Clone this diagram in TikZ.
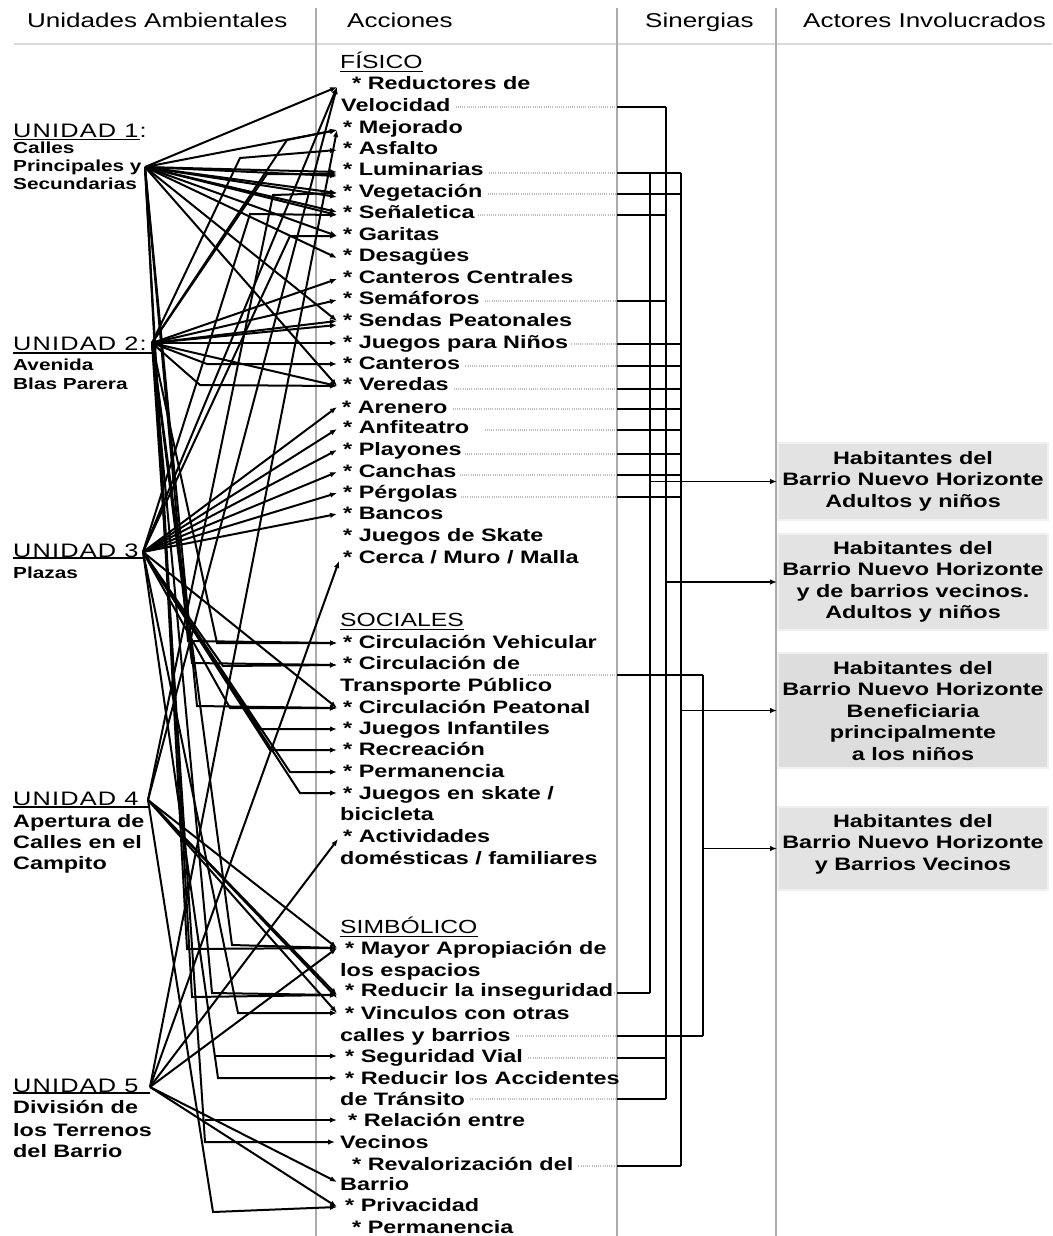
\documentclass[tikz,border=0pt]{standalone}
\usepackage{fontspec}
\setmainfont{Liberation Sans}[FakeStretch=1.3]
\usetikzlibrary{arrows.meta,calc}
\begin{document}
\begin{tikzpicture}[x=1pt,y=-1pt,
  conn/.style={line width=2pt,-{Latex[length=7pt,width=5.5pt]}},
  wire/.style={line width=1.6pt},
  outarrow/.style={line width=1.6pt,-{Latex[length=7pt,width=5.5pt]}},
  dots/.style={gray!50,line width=1.1pt,dash pattern=on 1pt off 1.2pt},
  sep/.style={gray!65,line width=1.3pt},
  item/.style={anchor=base west,inner sep=0pt,font=\fontsize{18}{20}\selectfont\bfseries},
  cat/.style={anchor=base west,inner sep=0pt,font=\fontsize{19}{20}\selectfont},
  head/.style={anchor=base west,inner sep=0pt,font=\fontsize{20}{22}\selectfont},
  unit/.style={anchor=base west,inner sep=0pt,font=\fontsize{19.5}{20}\selectfont\addfontfeature{LetterSpace=6}},
  desc/.style={anchor=base west,inner sep=0pt,font=\fontsize{16}{18}\selectfont\bfseries},
  descl/.style={anchor=base west,inner sep=0pt,font=\fontsize{18}{20}\selectfont\bfseries},
  actor/.style={fill=gray!22,draw=gray!12,line width=2pt,minimum width=270pt,inner sep=0pt},
  actortext/.style={align=center,font=\fontsize{18}{21.5}\selectfont\bfseries,inner sep=0pt},
]
\useasboundingbox (0,0) rectangle (1052,1236);
\fill[white] (0,0) rectangle (1052,1236);

% column frame
\draw[gray!30,line width=2pt] (14,44) -- (1052,44);
\draw[sep] (316,8) -- (316,1236);
\draw[sep] (617,8) -- (617,1236);
\draw[sep] (776,8) -- (776,1236);

% column titles
\node[head] (h1) at (27,28) {Unidades Ambientales};
\node[head] (h2) at (347,28) {Acciones};
\node[head] (h3) at (645,28) {Sinergias};
\node[head] (h4) at (803,28) {Actores Involucrados};

% environmental units
\node[unit] (u1) at (13,137.5) {UNIDAD 1:};
\node[desc] (u1a) at (13,153.5) {Calles};
\node[desc] (u1b) at (13,171) {Principales y};
\node[desc] (u1c) at (13,189) {Secundarias};
\node[unit] (u2) at (13,350) {UNIDAD 2:};
\node[desc] (u2a) at (13,370) {Avenida};
\node[desc] (u2b) at (13,389) {Blas Parera};
\node[unit] (u3) at (13,557) {UNIDAD 3};
\node[desc] (u3a) at (13,578) {Plazas};
\node[unit] (u4) at (13,805) {UNIDAD 4};
\node[descl] (u4a) at (13,827) {Apertura de};
\node[descl] (u4b) at (13,848) {Calles en el};
\node[descl] (u4c) at (13,869) {Campito};
\node[unit] (u5) at (13,1092) {UNIDAD 5};
\node[descl] (u5a) at (13,1113) {División de};
\node[descl] (u5b) at (13,1136) {los Terrenos};
\node[descl] (u5c) at (13,1157) {del Barrio};

\coordinate (U1) at (145,167);
\coordinate (U2) at (152,343);
\coordinate (U3) at (143,552);
\coordinate (U4) at (148,800);
\coordinate (U5) at (150,1087);

\draw[line width=1.1pt] (13,139.5) -- (140,139.5);
\draw[line width=1.1pt] (13,353) -- (U2 |- 0,353);
\draw[line width=1.1pt] (13,558) -- (U3 |- 0,558);
\draw[line width=1.1pt] (13,807) -- (U4 |- 0,807);
\draw[line width=1.1pt] (13,1093) -- (U5 |- 0,1093);

% actions
\node[cat] (hF) at (340,68.5) {FÍSICO};
\node[item] (t1) at (352,89.5) {* Reductores de};
\node[item] (t1b) at (341,111.5) {Velocidad};
\node[item] (t2) at (343,133.5) {* Mejorado};
\node[item] (t3) at (343,154.5) {* Asfalto};
\node[item] (t4) at (343,175.5) {* Luminarias};
\node[item] (t5) at (343,197.5) {* Vegetación};
\node[item] (t6) at (343,218.5) {* Señaletica};
\node[item] (t7) at (343,240.5) {* Garitas};
\node[item] (t8) at (343,261.5) {* Desagües};
\node[item] (t9) at (343,283.5) {* Canteros Centrales};
\node[item] (t10) at (343,304.5) {* Semáforos};
\node[item] (t11) at (343,326.5) {* Sendas Peatonales};
\node[item] (t12) at (343,348.5) {* Juegos para Niños};
\node[item] (t13) at (343,369.5) {* Canteros};
\node[item] (t14) at (343,390.5) {* Veredas};
\node[item] (t15) at (342,413.5) {* Arenero};
\node[item] (t16) at (343,433.5) {* Anfiteatro};
\node[item] (t17) at (343,455.5) {* Playones};
\node[item] (t18) at (343,477.5) {* Canchas};
\node[item] (t19) at (343,498.5) {* Pérgolas};
\node[item] (t20) at (343,519.5) {* Bancos};
\node[item] (t21) at (343,541.5) {* Juegos de Skate};
\node[item] (t22) at (343,563.5) {* Cerca / Muro / Malla};
\node[cat] (hS) at (340,626.5) {SOCIALES};
\node[item] (t23) at (343,648.5) {* Circulación Vehicular};
\node[item] (t24) at (343,669.5) {* Circulación de};
\node[item] (t24b) at (340,691.5) {Transporte Público};
\node[item] (t25) at (343,713.5) {* Circulación Peatonal};
\node[item] (t26) at (343,734.5) {* Juegos Infantiles};
\node[item] (t27) at (343,755.5) {* Recreación};
\node[item] (t28) at (343,777.5) {* Permanencia};
\node[item] (t29) at (343,799.5) {* Juegos en skate /};
\node[item] (t29b) at (340,820.5) {bicicleta};
\node[item] (t30) at (343,842.5) {* Actividades};
\node[item] (t30b) at (340,864.5) {domésticas / familiares};
\node[cat] (hY) at (340,933.5) {SIMBÓLICO};
\node[item] (t31) at (345,954.5) {* Mayor Apropiación de};
\node[item] (t31b) at (340,976.5) {los espacios};
\node[item] (t32) at (345,996.5) {* Reducir la inseguridad};
\node[item] (t33) at (345,1019.5) {* Vinculos con otras};
\node[item] (t33b) at (340,1041.5) {calles y barrios};
\node[item] (t34) at (345,1062.5) {* Seguridad Vial};
\node[item] (t35) at (345,1084.5) {* Reducir los Accidentes};
\node[item] (t35b) at (340,1105.5) {de Tránsito};
\node[item] (t36) at (348,1126.5) {* Relación entre};
\node[item] (t36b) at (340,1148.5) {Vecinos};
\node[item] (t37) at (352,1170.5) {* Revalorización del};
\node[item] (t37b) at (340,1190.5) {Barrio};
\node[item] (t38) at (345,1211.5) {* Privacidad};
\node[item] (t39) at (352,1233.5) {* Permanencia};

\foreach \h in {hF,hS,hY}
  \draw[line width=1.1pt] ($(\h.base west)+(0,3)$) -- ($(\h.base east)+(0,3)$);

% arrow tips in front of the actions
\foreach \n/\y in {1/87,2/130,3/150,4/172,5/193,6/215,7/236,8/258,9/279,10/300,
  11/321,12/343,13/364,14/386,15/407,16/429,17/450,18/472,19/493,20/514,
  23/643,24/665,25/708,26/729,27/750,28/772,29/793,31/948,32/995,33/1013,
  34/1056,35/1078,36/1120,38/1207}
  \coordinate (a\n) at (337,\y);
\coordinate (a22) at (339,561);
\coordinate (a30) at (338,839);
\coordinate (a36b) at (335,1142);
\coordinate (a37b) at (337,1182);

% unit 1
\foreach \t in {a1,a2,a4,a5,a6,a7,a8,a11,a14}
  \draw[conn] (U1) -- (\t);
\draw[conn] (U1) -- ($(a4)+(0,4)$);
\draw[conn] (U1) -- ($(a5)+(0,4)$);
\draw[conn] (U1) -- ($(a6)+(0,-3)$);
\draw[conn] (U1) -- (188,641) -- (a23);
\draw[conn] (U1) -- (197,706) -- (a25);
\draw[conn] (U1) -- (187,949) -- (a31);
\draw[conn] (U1) -- (192,997) -- (a32);

% unit 2
\foreach \t in {a9,a10,a11,a12,a14}
  \draw[conn] (U2) -- (\t);
\draw[conn] (U2) -- ($(a11)+(0,4)$);
\draw[conn] (U2) -- (240,158) -- (a3);
\draw[conn] (U2) -- (287,140) -- (a2);
\draw[conn] (U2) -- (267,174) -- ($(a4)+(0,2)$);
\draw[conn] (U2) -- (207,364) -- (a13);
\draw[conn] (U2) -- (200,385) -- (a14);
\draw[conn] (U2) -- (217,643) -- (a23);
\draw[conn] (U2) -- (192,663) -- (a24);
\draw[conn] (U2) -- (232,945) -- (a31);
\draw[conn] (U2) -- (212,993) -- (a32);
\draw[conn] (U2) -- (205,1142) -- (a36b);
\draw[conn] (205,1120) -- (a36);

% unit 3
\foreach \t in {a1,a15,a16,a17,a18,a19,a20,a25}
  \draw[conn] (U3) -- (\t);
\draw[conn] (U3) -- (250,214) -- (a6);
\draw[conn] (U3) -- (290,236) -- (a7);
\draw[conn] (U3) -- (223,666) -- (a24);
\draw[conn] (U3) -- (230,708) -- (a25);
\draw[conn] (U3) -- (260,729) -- (a26);
\draw[conn] (U3) -- (270,750) -- (a27);
\draw[conn] (U3) -- (290,772) -- (a28);
\draw[conn] (U3) -- (300,793) -- (a29);
\draw[conn] (U3) -- (238,1013) -- (a33);
\draw[conn] (U3) -- (218,1078) -- (a35);
\draw[conn] (216,1056) -- (a34);

% unit 4
\foreach \t in {a1,a31,a32,a33}
  \draw[conn] (U4) -- (\t);
\draw[conn] (U4) -- ($(a32)+(0,3)$);
\draw[conn] (U4) -- (273,195) -- (a5);
\draw[conn] (U4) -- (213,1212) -- (a38);

% unit 5
\foreach \t in {a2,a22,a30,a31,a37b,a38}
  \draw[conn] (U5) -- (\t);

% dotted leaders from the actions to the synergy column
\draw[dots,shorten <=5pt] (t1b.east |- 0,107) -- (617,107);
\draw[dots,shorten <=5pt] (t4.east |- 0,173) -- (617,173);
\draw[dots,shorten <=5pt] (t5.east |- 0,194) -- (617,194);
\draw[dots,shorten <=3pt] (t6.east |- 0,215) -- (617,215);
\draw[dots,shorten <=5pt] (t10.east |- 0,301) -- (617,301);
\draw[dots,shorten <=3pt] (t12.east |- 0,344) -- (617,344);
\draw[dots,shorten <=5pt] (t13.east |- 0,366) -- (617,366);
\draw[dots,shorten <=5pt] (t14.east |- 0,389) -- (617,389);
\draw[dots,shorten <=5pt] (t15.east |- 0,409) -- (617,409);
\draw[dots,shorten <=15pt] (t16.east |- 0,430) -- (617,430);
\draw[dots,shorten <=3pt] (t17.east |- 0,454) -- (617,454);
\draw[dots,shorten <=3pt] (t18.east |- 0,475) -- (617,475);
\draw[dots,shorten <=3pt] (t19.east |- 0,497) -- (617,497);
\draw[dots,shorten <=8pt] (t24.east |- 0,675) -- (617,675);
\draw[dots,shorten <=1pt] (t32.east |- 0,993) -- (617,993);
\draw[dots,shorten <=5pt] (t33b.east |- 0,1036) -- (617,1036);
\draw[dots,shorten <=5pt] (t34.east |- 0,1058) -- (617,1058);
\draw[dots,shorten <=5pt] (t35b.east |- 0,1099) -- (617,1099);
\draw[dots,shorten <=5pt] (t37.east |- 0,1166) -- (617,1166);

% synergy buses
\coordinate (b650) at (650,0);
\coordinate (b666) at (666,0);
\coordinate (b681) at (681,0);
\coordinate (b703) at (703,0);
\draw[wire] (b650 |- 0,173) -- (b650 |- 0,993);
\draw[wire] (b666 |- 0,107) -- (b666 |- 0,1099);
\draw[wire] (b681 |- 0,173) -- (b681 |- 0,1166);
\draw[wire] (b703 |- 0,675) -- (b703 |- 0,1036);
\foreach \y/\b in {107/b666,173/b681,194/b681,215/b666,301/b666,344/b681,366/b681,
  389/b681,409/b681,430/b681,454/b681,475/b681,497/b681,675/b703,993/b650,
  1036/b703,1058/b666,1099/b666,1166/b681}
  \draw[wire] (617,\y) -- (\b |- 0,\y);

% actors
\node[actor,minimum height=77pt] (A1) at (913,481.5) {};
\node[actor,minimum height=96pt] (A2) at (913,582) {};
\node[actor,minimum height=115pt,fill=gray!27] (A3) at (913,710.5) {};
\node[actor,minimum height=83pt] (A4) at (913,848.5) {};
\node[actortext] (A1t) at (913,481)
  {Habitantes del\\Barrio Nuevo Horizonte\\Adultos y niños};
\node[actortext] (A2t) at (913,582)
  {Habitantes del\\Barrio Nuevo Horizonte\\y de barrios vecinos.\\Adultos y niños};
\node[actortext] (A3t) at (913,711)
  {Habitantes del\\Barrio Nuevo Horizonte\\Beneficiaria\\principalmente\\a los niños};
\node[actortext] (A4t) at (913,844)
  {Habitantes del\\Barrio Nuevo Horizonte\\y Barrios Vecinos};

\draw[outarrow] (b650 |- A1.west) -- (A1.west);
\draw[outarrow] (b666 |- A2.west) -- (A2.west);
\draw[outarrow] (b681 |- A3.west) -- (A3.west);
\draw[outarrow] (b703 |- A4.west) -- (A4.west);
\end{tikzpicture}
\end{document}
